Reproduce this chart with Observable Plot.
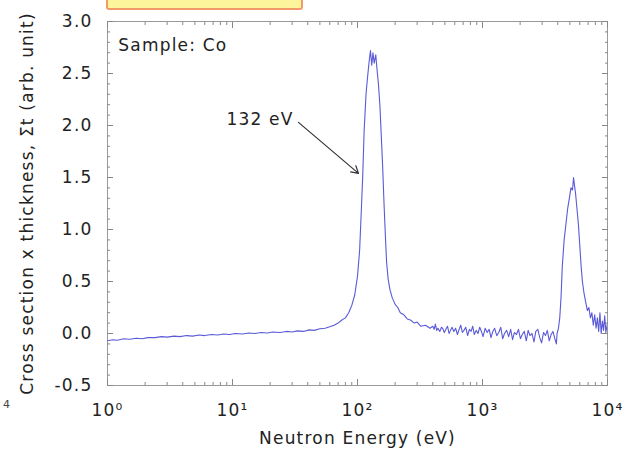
<!DOCTYPE html>
<html>
<head>
<meta charset="utf-8">
<script src="https://cdn.jsdelivr.net/npm/d3@7"></script>
<script src="https://cdn.jsdelivr.net/npm/@observablehq/plot@0.6"></script>
<style>
  html, body { margin: 0; padding: 0; background: #fff; }
  #wrap { position: relative; width: 622px; height: 451px; overflow: hidden; }
  #tag { position: absolute; left: 106px; top: -4px; width: 193px; height: 10px;
         background: #fdf59c; border: 2px solid #f39a6a; border-radius: 3px; }
  #stray { position: absolute; left: 3px; top: 398px; font: 11px "DejaVu Sans"; color: #444; }
</style>
</head>
<body>
<div id="wrap"><div id="stray">4</div></div>
<script>
// Neutron energy (eV)
const energy = [
  1, 1.1, 1.2, 1.35, 1.5, 1.7, 1.9, 2.1, 2.4, 2.7, 3, 3.4, 3.8, 4.3, 4.8, 5.4, 6, 6.8, 7.6, 8.5, 9.5,
  10.5, 12, 13.5, 15, 17, 19, 21, 24, 27, 30, 33, 37, 41, 45, 50, 55, 60, 65, 70, 75, 80, 85, 90, 95,
  100, 104, 107, 110, 113, 117, 120, 124, 127, 130, 133, 136, 140, 143, 147, 151, 155, 159, 163, 167,
  171, 176, 182, 190, 200, 210, 220, 235, 250, 265, 285, 300, 320, 350, 380,
  400, 410, 420, 430, 440, 455, 470, 480, 495, 510, 525, 540, 555, 570, 590, 610, 630, 650, 670, 690,
  710, 735, 760, 785, 810, 835, 860, 890, 920, 950, 980, 1010, 1050, 1090, 1130, 1170, 1210, 1250,
  1300, 1350, 1400, 1450, 1500, 1560, 1620, 1680, 1740, 1800, 1870, 1940, 2010, 2080, 2160, 2240,
  2320, 2400, 2490, 2580, 2670, 2770, 2870, 2970, 3080, 3190, 3300, 3420, 3540, 3660, 3790, 3900,
  3950, 4050, 4150, 4250, 4350, 4500, 4650, 4800, 4950, 5100, 5250, 5350, 5450, 5550, 5700, 5850,
  6000, 6150, 6300, 6500, 6700, 6900, 7100, 7300, 7500, 7700, 7900, 8100, 8300, 8500, 8700, 8900,
  9100, 9300, 9500, 9700, 10000
];
// Cross section x thickness (arb. unit)
const sigmaT = [
  -0.07, -0.06, -0.065, -0.05, -0.055, -0.045, -0.05, -0.04, -0.04, -0.03, -0.035, -0.025, -0.03, -0.02, -0.025, -0.015, -0.02, -0.01, -0.015, -0.005, -0.01,
  0.0, -0.005, 0.005, 0.0, 0.01, 0.005, 0.015, 0.01, 0.02, 0.015, 0.025, 0.02, 0.035, 0.03, 0.045, 0.05, 0.065, 0.08, 0.1, 0.13, 0.15, 0.2, 0.27, 0.37,
  0.55, 0.8, 1.15, 1.5, 1.95, 2.3, 2.45, 2.62, 2.72, 2.58, 2.7, 2.6, 2.68, 2.55, 2.4, 2.2, 1.9, 1.6, 1.25, 0.95,
  0.68, 0.52, 0.42, 0.34, 0.28, 0.25, 0.2, 0.18, 0.14, 0.13, 0.1, 0.11, 0.07, 0.08, 0.05,
  0.07, 0.04, 0.09, 0.03, 0.05, 0.02, 0.06, 0.05, 0.01, 0.04, 0.07, 0.0, 0.03, 0.06, 0.02, 0.05, -0.01, 0.04, 0.08, 0.01,
  0.03, 0.06, -0.02, 0.04, 0.02, 0.07, -0.01, 0.03, 0.0, 0.06, 0.02, -0.03, 0.05, 0.01, 0.04, -0.04, 0.02, 0.05,
  -0.02, 0.01, 0.06, -0.05, 0.0, 0.03, -0.03, 0.04, -0.06, 0.01, -0.01, 0.04, -0.05, -0.01, 0.02, -0.07,
  0.03, -0.02, 0.0, -0.08, 0.02, 0.04, -0.04, -0.09, 0.01, -0.02, 0.03, -0.07, -0.01, 0.02, -0.05, -0.1,
  0.0, 0.05, 0.15, 0.35, 0.65, 0.9, 1.05, 1.2, 1.3, 1.4, 1.38, 1.5, 1.42, 1.35, 1.2, 1.05,
  0.85, 0.65, 0.5, 0.38, 0.3, 0.22, 0.25, 0.15, 0.2, 0.08, 0.18, 0.05, 0.15, 0.02, 0.2, 0.0,
  0.12, 0.03, 0.17, 0.01, 0.1
];
const xMajorTicks = [1, 10, 100, 1000, 10000];
const xMinorTicks = [2, 3, 4, 5, 6, 7, 8, 9, 20, 30, 40, 50, 60, 70, 80, 90,
  200, 300, 400, 500, 600, 700, 800, 900, 2000, 3000, 4000, 5000, 6000, 7000, 8000, 9000];
const xTickLabels = ["10\u2070", "10\u00b9", "10\u00b2", "10\u00b3", "10\u2074"];
const yMajorTicks = [-0.5, 0, 0.5, 1.0, 1.5, 2.0, 2.5, 3.0];
const yMinorTicks = [-0.4, -0.3, -0.2, -0.1, 0.1, 0.2, 0.3, 0.4, 0.6, 0.7, 0.8, 0.9, 1.1, 1.2, 1.3, 1.4,
  1.6, 1.7, 1.8, 1.9, 2.1, 2.2, 2.3, 2.4, 2.6, 2.7, 2.8, 2.9];
const xLabel = "Neutron Energy (eV)";
const yLabel = "Cross section x thickness, \u03a3t (arb. unit)";
const sampleNote = [{e: 1.22, s: 2.77, text: "Sample: Co"}];
const peakNote = [{e: 30.8, s: 2.06, text: "132 eV"}];
const peakArrow = [{e1: 33.7, s1: 2.03, e2: 101.9, s2: 1.54}];

const data = energy.map((e, i) => ({e, s: sigmaT[i]}));
const fmtX = d => xTickLabels[xMajorTicks.indexOf(d)] ?? "";
const blank = () => "";

const chart = Plot.plot({
  width: 622, height: 451,
  marginLeft: 107, marginRight: 15, marginTop: 21, marginBottom: 66,
  x: {type: "log", domain: [1, 10000]},
  y: {domain: [-0.5, 3.0]},
  style: {fontFamily: "DejaVu Sans", fontSize: "17px", color: "#222", background: "transparent"},
  marks: [
    Plot.frame({stroke: "#9a9a9a"}),
    Plot.axisX({anchor: "bottom", ticks: xMajorTicks, tickSize: -6, tickPadding: 24, tickFormat: fmtX, label: null, stroke: "#888"}),
    Plot.axisX({anchor: "bottom", ticks: xMinorTicks, tickSize: -3, tickFormat: blank, label: null, stroke: "#888"}),
    Plot.axisX({anchor: "top", ticks: xMajorTicks, tickSize: -6, tickFormat: blank, label: null, stroke: "#888"}),
    Plot.axisX({anchor: "top", ticks: xMinorTicks, tickSize: -3, tickFormat: blank, label: null, stroke: "#888"}),
    Plot.axisY({anchor: "left", ticks: yMajorTicks, tickSize: -6, tickPadding: 21, tickFormat: d => d.toFixed(1), label: null, stroke: "#888"}),
    Plot.axisY({anchor: "left", ticks: yMinorTicks, tickSize: -3, tickFormat: blank, label: null, stroke: "#888"}),
    Plot.axisY({anchor: "right", ticks: yMajorTicks, tickSize: -6, tickFormat: blank, label: null, stroke: "#888"}),
    Plot.axisY({anchor: "right", ticks: yMinorTicks, tickSize: -3, tickFormat: blank, label: null, stroke: "#888"}),
    Plot.line(data, {x: "e", y: "s", stroke: "#5a5ad8", strokeWidth: 1.1, clip: true}),
    Plot.text(sampleNote, {x: "e", y: "s", text: "text", textAnchor: "start", fontSize: 17, fill: "#222"}),
    Plot.text(peakNote, {x: "e", y: "s", text: "text", textAnchor: "end", fontSize: 17, fill: "#222"}),
    Plot.arrow(peakArrow, {x1: "e1", y1: "s1", x2: "e2", y2: "s2", stroke: "#333", strokeWidth: 1.2, headLength: 10}),
    Plot.text([xLabel], {frameAnchor: "bottom", dy: 58, lineAnchor: "bottom", fontSize: 17, fill: "#222"}),
    Plot.text([yLabel], {frameAnchor: "left", dx: -75, rotate: -90, textAnchor: "middle", lineAnchor: "bottom", fontSize: 17, fill: "#222"})
  ]
});
chart.querySelectorAll("text").forEach(t => t.style.letterSpacing = "1.2px");
const wrap = document.getElementById("wrap");
wrap.insertBefore(chart, wrap.firstChild);
const tag = document.createElement("div");
tag.id = "tag";
wrap.appendChild(tag);
</script>
</body>
</html>
